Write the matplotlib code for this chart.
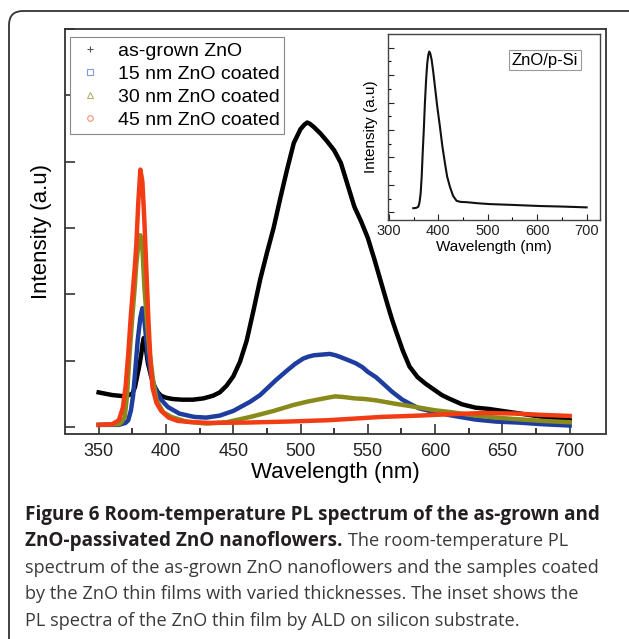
import matplotlib
matplotlib.use("Agg")
import matplotlib.pyplot as plt
from matplotlib.lines import Line2D
from matplotlib.patches import FancyBboxPatch
from matplotlib.transforms import IdentityTransform

plt.rcParams['font.family'] = ['Liberation Sans', 'DejaVu Sans']

# ---- data (wavelength in nm, intensity in tick units) ----
wl_grown = [350, 355, 360, 365, 370, 375, 377, 379, 380.5, 381.7, 382.6, 383.5, 384.5, 385.5, 386.6,
            389, 391.5, 394, 396.4, 400, 405, 412, 420, 428, 435, 440, 445, 450, 455, 460, 465,
            470, 475, 480, 485, 490, 495, 500, 503, 505, 507, 510, 515, 520, 525, 530, 535, 540,
            545, 550, 555, 560, 565, 568, 571, 576, 581, 587, 593, 600, 605, 610, 620, 630, 640,
            650, 660, 670, 680, 690, 700]
int_grown = [0.52, 0.50, 0.48, 0.47, 0.46, 0.50, 0.60, 0.80, 0.95, 1.10, 1.25, 1.34, 1.28, 1.12, 0.96,
             0.76, 0.61, 0.52, 0.47, 0.44, 0.42, 0.41, 0.41, 0.43, 0.47, 0.52, 0.62, 0.76, 0.98, 1.30, 1.75,
             2.22, 2.62, 3.00, 3.45, 3.88, 4.28, 4.49, 4.56, 4.59, 4.57, 4.52, 4.42, 4.30, 4.17, 3.98, 3.65, 3.32,
             3.10, 2.85, 2.52, 2.17, 1.82, 1.62, 1.44, 1.15, 0.91, 0.75, 0.65, 0.55, 0.48, 0.43, 0.34, 0.29, 0.27,
             0.24, 0.21, 0.18, 0.15, 0.12, 0.10]

wl_15 = [350, 365, 370, 372, 374, 375.6, 377, 379, 381, 382.5, 384, 386.6, 389, 391.5, 396, 401.4, 410,
         421, 430, 440, 450, 462.7, 470, 482, 490, 496, 502, 506, 510, 516, 521.7, 526, 530, 535, 541,
         546, 550, 556, 561, 568, 575.7, 582, 588, 594, 600, 612.6, 630, 645, 661.7, 680, 700]
int_15 = [0.03, 0.03, 0.06, 0.10, 0.25, 0.47, 0.80, 1.30, 1.65, 1.79, 1.60, 1.06, 0.78, 0.60, 0.42, 0.30, 0.20,
          0.15, 0.14, 0.17, 0.24, 0.38, 0.48, 0.71, 0.85, 0.95, 1.03, 1.06, 1.08, 1.09, 1.10, 1.08, 1.05, 1.01, 0.96,
          0.90, 0.83, 0.75, 0.66, 0.53, 0.41, 0.34, 0.28, 0.25, 0.22, 0.17, 0.11, 0.08, 0.065, 0.04, 0.02]

wl_30 = [350, 365, 367, 369.4, 371, 373, 375, 376.8, 378, 379, 380, 381, 382.5, 384, 386, 388, 390.5, 393,
         398, 404, 415, 430, 445, 462.7, 480, 494.7, 505, 515, 525.7, 532, 540, 548, 556, 570, 585.6,
         600, 612.6, 630, 645, 661.7, 680, 700]
int_30 = [0.03, 0.04, 0.07, 0.15, 0.45, 1.10, 1.65, 2.10, 2.45, 2.65, 2.80, 2.89, 2.70, 2.10, 1.55, 1.10, 0.70, 0.40,
          0.22, 0.15, 0.08, 0.05, 0.07, 0.15, 0.24, 0.33, 0.38, 0.42, 0.46, 0.45, 0.43, 0.42, 0.40, 0.35, 0.30,
          0.25, 0.22, 0.17, 0.14, 0.115, 0.09, 0.07]

wl_45 = [350, 360, 365, 368, 370, 372, 374, 375.6, 377, 378, 379.5, 381, 382.5, 384, 385.5, 387, 388.5, 390,
         393, 396.5, 402, 408.7, 420, 433, 460, 490, 520, 536.5, 560, 588, 610, 637, 660, 680, 700]
int_45 = [0.03, 0.04, 0.10, 0.29, 0.60, 1.10, 1.70, 2.10, 2.45, 2.75, 3.40, 3.88, 3.70, 3.10, 2.35, 1.60, 1.00, 0.59,
          0.36, 0.24, 0.14, 0.09, 0.07, 0.06, 0.065, 0.08, 0.10, 0.12, 0.15, 0.17, 0.19, 0.21, 0.20, 0.18, 0.165]

wl_si = [349.5, 355, 359.6, 362, 364.4, 366.5, 368.5, 371, 373, 375.5, 377.8, 380, 381.8, 384, 386.6,
         390, 393.3, 398, 403.4, 408, 413.5, 418, 423.6, 430, 437, 445, 457, 480, 504, 550, 605, 650, 700]
int_si = [0.15, 0.16, 0.20, 0.35, 0.69, 1.30, 2.15, 3.10, 3.98, 4.85, 5.44, 5.75, 5.86, 5.78, 5.56,
          5.10, 4.58, 3.85, 3.12, 2.45, 1.79, 1.30, 0.93, 0.60, 0.42, 0.38, 0.37, 0.33, 0.30, 0.27, 0.23, 0.21, 0.18]

labels = ["as-grown ZnO", "15 nm ZnO coated", "30 nm ZnO coated", "45 nm ZnO coated"]
line_colors = ["#000000", "#1f3d9e", "#8a8a1c", "#f23c14"]
legend_colors = ["#555555", "#8a96d6", "#b8b070", "#f4906c"]
markers = ["+", "s", "^", "o"]

W, H = 629, 639
fig = plt.figure(figsize=(W / 100, H / 100), dpi=100)

# rounded frame around the whole figure block
frame = FancyBboxPatch((9, -60), 660, H - 11 + 60, boxstyle="round,pad=0,rounding_size=14",
                       transform=IdentityTransform(), fill=False, edgecolor="#333333", lw=1.3)
fig.patches.append(frame)

ax = fig.add_axes([65 / W, 1 - 433.5 / H, 541 / W, 404.5 / H])
series = [(wl_grown, int_grown), (wl_15, int_15), (wl_30, int_30), (wl_45, int_45)]
for (x, y), c in zip(series, line_colors):
    ax.plot(x, y, color=c, lw=3.2, solid_joinstyle="round")

ax.set_xlim(325, 727)
ax.set_ylim(-0.1, 5.99)
ax.set_xticks(range(350, 701, 50))
ax.set_xticks(range(375, 701, 50), minor=True)
ax.set_yticks(range(0, 7))
ax.set_yticklabels([])
ax.tick_params(direction="in", length=7, width=1.1, labelsize=13, colors="#222222", pad=7)
ax.tick_params(which="minor", direction="in", length=4, width=1.1)
for s in ax.spines.values():
    s.set_linewidth(1.3)
    s.set_color("#333333")
ax.set_xlabel("Wavelength (nm)", fontsize=16, labelpad=1)
ax.set_ylabel("Intensity (a.u)", fontsize=16, labelpad=2)

handles = [Line2D([], [], ls="none", marker=m, markersize=4, markerfacecolor="none",
                  markeredgecolor=c, markeredgewidth=0.8) for m, c in zip(markers, legend_colors)]
leg = ax.legend(handles, labels, loc="upper left", bbox_to_anchor=(0.009, 0.979), borderaxespad=0,
                fontsize=14, frameon=True, fancybox=False, edgecolor="#888888", framealpha=1,
                labelspacing=0.28, borderpad=0.25, handlelength=1.6, handletextpad=0.6)
leg.get_frame().set_linewidth(0.8)

# inset
ins = fig.add_axes([388.3 / W, 1 - 220 / H, 211.7 / W, 186 / H])
ins.plot(wl_si, int_si, color="#111111", lw=1.5)
ins.set_xlim(299, 727)
ins.set_ylim(-0.28, 6.5)
ins.set_xticks(range(300, 701, 100))
ins.set_xticks(range(350, 701, 100), minor=True)
ins.set_yticks(range(0, 7))
ins.set_yticks([i + 0.5 for i in range(0, 6)], minor=True)
ins.set_yticklabels([])
ins.tick_params(direction="in", length=4, width=0.8, labelsize=10.5, colors="#222222", pad=3)
ins.tick_params(which="minor", direction="in", length=2.5, width=0.8)
for s in ins.spines.values():
    s.set_linewidth(1.0)
    s.set_color("#444444")
ins.set_xlabel("Wavelength (nm)", fontsize=11, labelpad=1)
ins.set_ylabel("Intensity (a.u)", fontsize=11, labelpad=4)
ins.text(0.74, 0.86, "ZnO/p-Si", transform=ins.transAxes, ha="center", va="center", fontsize=12,
         bbox=dict(boxstyle="square,pad=0.15", facecolor="white", edgecolor="#999999", lw=0.8))

# caption
cap_font = "Open Sans"
bold_size = 13.6
reg_size = 13.1
x0 = 25 / W
fig.text(x0, 1 - 515 / H, "Figure 6 Room-temperature PL spectrum of the as-grown and",
         family=cap_font, weight="bold", fontsize=bold_size, color="#231f20", va="center")
b = fig.text(x0, 1 - 541 / H, "ZnO-passivated ZnO nanoflowers.",
             family=cap_font, weight="bold", fontsize=bold_size, color="#231f20", va="center")
fig.canvas.draw()
bb = b.get_window_extent()
fig.text((bb.x1 + 5) / W, 1 - 541 / H, "The room-temperature PL",
         family=cap_font, fontsize=reg_size, color="#3a3a3a", va="center")
rest = ["spectrum of the as-grown ZnO nanoflowers and the samples coated",
        "by the ZnO thin films with varied thicknesses. The inset shows the",
        "PL spectra of the ZnO thin film by ALD on silicon substrate."]
for i, line in enumerate(rest):
    fig.text(x0, 1 - (568 + 26.3 * i) / H, line, family=cap_font, fontsize=reg_size,
             color="#3a3a3a", va="center")

fig.savefig("out.png", dpi=100, facecolor="white")
